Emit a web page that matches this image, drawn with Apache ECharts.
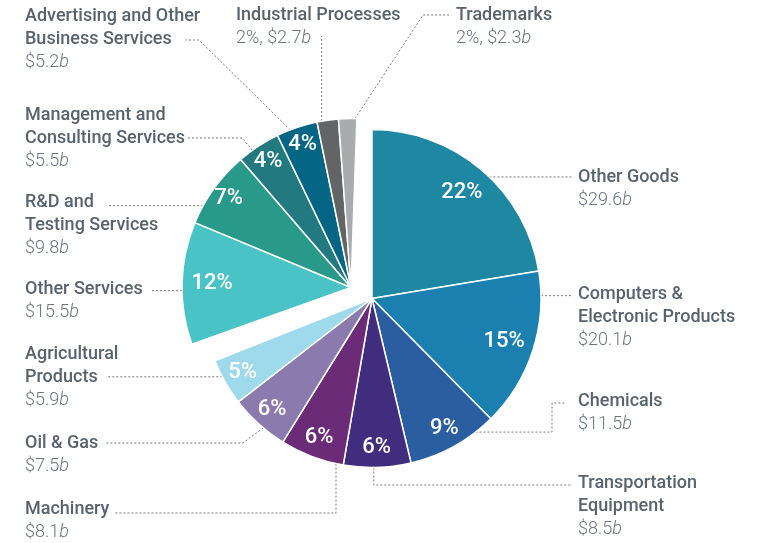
<!DOCTYPE html>
<html><head><meta charset="utf-8">
<script src="https://cdn.jsdelivr.net/npm/echarts@6/dist/echarts.min.js"></script>
<style>html,body{margin:0;padding:0;background:#fff}#c{width:760px;height:543px}</style>
</head><body><div id="c"></div>
<script>
// ---- data ----
const categories = ['Other Goods', 'Computers &\nElectronic Products', 'Chemicals', 'Transportation\nEquipment',
  'Machinery', 'Oil & Gas', 'Agricultural\nProducts', 'Other Services', 'R&D and\nTesting Services',
  'Management and\nConsulting Services', 'Advertising and Other\nBusiness Services', 'Industrial Processes', 'Trademarks'];
const values = [29.6, 20.1, 11.5, 8.5, 8.1, 7.5, 5.9, 15.5, 9.8, 5.5, 5.2, 2.7, 2.3];
const percents = [22, 15, 9, 6, 6, 6, 5, 12, 7, 4, 4, 2, 2];
const groups = ['goods', 'goods', 'goods', 'goods', 'goods', 'goods', 'goods',
  'services', 'services', 'services', 'services', 'services', 'services'];
const pctOutside = [false, false, false, false, false, false, false, false, false, false, false, true, true];

// ---- style / layout ----
const colors = ['#1e87a2', '#1b7fb0', '#2a5ea0', '#402d7d', '#6c2b77', '#8a7aad', '#9ed9ec',
  '#4ac3c6', '#29998a', '#22797f', '#046584', '#636466', '#aaabae'];
const R = 169;
const C1 = [372, 298.5], S1 = 90;   // goods
const C2 = [351, 287.5], S2 = 88;   // services (pulled out)
const labelCfg = [
  {x: 578, y: 177, f: .546, pts: [[572, null]]},
  {x: 578, y: 294, f: .154, pts: [[572, null]]},
  {x: 578, y: 401, f: .22, pts: [[552, null], [552, 403], [566, 403]]},
  {x: 578, y: 483, f: .55, pts: [[null, 485], [572, 485]]},
  {x: 25, y: 509, f: .113, pts: [[null, 513], [115, 513]]},
  {x: 25, y: 443, f: .40, pts: [[243, 443], [106, 443]]},
  {x: 25, y: 354, f: .63, pts: [[106, null]]},
  {x: 25, y: 289, f: .44, pts: [[150, null]]},
  {x: 25, y: 202, f: .24, pts: [[108, null]]},
  {x: 25, y: 115, f: .34, pts: [[242, 138], [188, 138]]},
  {x: 25, y: 16, f: .33, pts: [[199, 40], [186, 40]]},
  {x: 236, y: 15, f: .22, pts: [[null, 36]]},
  {x: 456, y: 15, f: .9, pts: [[423, 15], [449, 15]]}
];
const LH = 23;
const FONT = 'Roboto, "Noto Sans", sans-serif';

const total = values.reduce((a, b) => a + b, 0);
const cum = []; values.reduce((a, v, i) => { cum[i] = a; return a + v; }, 0);

function layoutFn(center, startAngle) {
  return function (p) {
    const i = p.dataIndex, L = labelCfg[i];
    const a = ((90 - startAngle) + (cum[i] + L.f * values[i]) / total * 360) * Math.PI / 180;
    const anchor = [center[0] + R * Math.sin(a), center[1] - R * Math.cos(a)];
    const pts = [anchor]; let prev = anchor;
    L.pts.forEach(q => { const n = [q[0] == null ? prev[0] : q[0], q[1] == null ? prev[1] : q[1]]; pts.push(n); prev = n; });
    return {x: L.x, y: L.y - LH / 2, align: 'left', verticalAlign: 'top', labelLinePoints: pts};
  };
}

const rich = {
  n: {fontFamily: FONT, fontSize: 18, fontWeight: 500, color: '#58636e', lineHeight: LH},
  v: {fontFamily: FONT, fontSize: 18, fontWeight: 300, color: '#6c7680', lineHeight: LH},
  b: {fontFamily: FONT, fontSize: 18, fontWeight: 300, fontStyle: 'italic', color: '#6c7680', lineHeight: LH}
};
function outsideText(p) {
  const i = p.dataIndex;
  const nm = categories[i].split('\n').map(s => '{n|' + s + '}').join('\n');
  const pre = pctOutside[i] ? percents[i] + '%, ' : '';
  return nm + '\n{v|' + pre + '$' + values[i].toFixed(1) + '}{b|b}';
}

function colorSeries(group, center, startAngle) {
  return {
    type: 'pie', center: center, radius: [0, R], startAngle: startAngle, clockwise: true,
    avoidLabelOverlap: false, silent: true, animation: false,
    label: {show: true, position: 'outside', formatter: outsideText, rich: rich},
    labelLine: {show: true, smooth: false, lineStyle: {color: '#777', width: 1, type: [2, 2]}},
    labelLayout: layoutFn(center, startAngle),
    data: values.map((v, i) => groups[i] === group ? {
      name: categories[i], value: v,
      itemStyle: {color: colors[i], borderColor: '#fff', borderWidth: 1.5}
    } : {
      name: categories[i], value: v,
      itemStyle: {color: 'rgba(0,0,0,0)', borderWidth: 0},
      label: {show: false}, labelLine: {show: false}
    })
  };
}
// percentage labels: large slices sit a bit further in than small ones
function pctSeries(group, center, startAngle, inner, large) {
  return {
    type: 'pie', center: center, radius: [inner, R], startAngle: startAngle, clockwise: true,
    avoidLabelOverlap: false, silent: true, animation: false,
    itemStyle: {color: 'rgba(0,0,0,0)', borderWidth: 0},
    label: {show: true, position: 'inside', color: '#fff', fontFamily: FONT, fontSize: 22, fontWeight: 500,
      formatter: p => percents[p.dataIndex] + '%'},
    labelLine: {show: false},
    data: values.map((v, i) => ({
      name: categories[i], value: v,
      label: {show: groups[i] === group && !pctOutside[i] && ((percents[i] >= 10) === large)}
    }))
  };
}

const chart = echarts.init(document.getElementById('c'), null, {renderer: 'canvas'});
chart.setOption({
  animation: false,
  backgroundColor: '#fff',
  series: [
    colorSeries('goods', C1, S1),
    colorSeries('services', C2, S2),
    pctSeries('goods', C1, S1, 103, true),
    pctSeries('goods', C1, S1, 123, false),
    pctSeries('services', C2, S2, 103, true),
    pctSeries('services', C2, S2, 127, false)
  ]
});
</script></body></html>
